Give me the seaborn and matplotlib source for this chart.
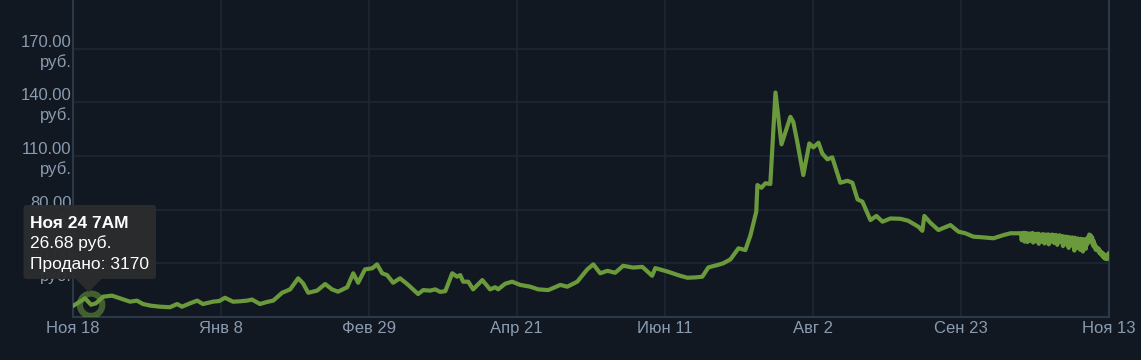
import numpy as np
import pandas as pd
import matplotlib
matplotlib.use("Agg")
import matplotlib.pyplot as plt
import seaborn as sns
from matplotlib.patches import FancyBboxPatch, Polygon

# ---------------- data ----------------
# days since 2023-11-18 (daily history) and median price, руб.
days_daily = [0, 2, 4.2, 6.3, 8, 10.5, 13.6, 16.4, 19.9, 22.3, 24.4, 27, 30.3, 33.8, 36.3, 38,
              40.8, 43.3, 45.3, 48.8, 51, 53, 55.8, 58, 60.7, 62.4, 65.2, 67.5, 69.8, 72.9,
              75.7, 78.5, 80.2, 82, 85.1, 87.9, 90.3, 92.4, 95.6, 97.7, 99.4, 101.8, 104.3,
              106, 107.8, 109.5, 111.6, 114, 116.5, 120.3, 122.1, 124.5, 126.3, 128, 129.8,
              132.2, 133.9, 135, 136, 137.8, 139.5, 142.7, 145.4, 147.2, 148.2, 150.7, 153.1,
              155.9, 159.4, 162.2, 165.7, 169.9, 172.3, 175.8, 179.3, 181.4, 183.8, 186.3,
              189, 191.8, 195.3, 198.5, 201.9, 203, 207.2, 211.7, 214.2, 217, 219.4, 221.5,
              224.6, 226.7, 229.2, 232, 234.4, 236.2, 238.2, 238.6, 240, 241.4, 243.1, 244.9,
              247, 250.1, 251.1, 252.5, 254.6, 256.7, 258.1, 259.9, 261.2, 263, 264.7, 267.5,
              270, 271.7, 273.5, 275.2, 278, 280.1, 282.2, 285, 288.5, 291.2, 294.7, 296.1,
              296.8, 298.9, 301.7, 305.9, 308.7, 311.1, 313.9, 317.4, 320.9, 324.4, 326.8, 330.3]
price_daily = [26.0, 28.0, 30.3, 26.68, 27.5, 31.2, 31.8, 30.3, 28.4, 29.0, 27.1, 26.2, 25.6, 25.3,
               27.1, 25.6, 27.5, 29.0, 27.1, 28.4, 28.8, 30.6, 28.4, 28.6, 29.0, 29.6, 27.1, 28.2,
               29.0, 33.4, 35.3, 41.5, 38.7, 33.4, 34.6, 38.3, 35.3, 34.0, 36.5, 44.3, 39.0, 46.5,
               47.1, 49.3, 44.3, 43.3, 39.0, 41.5, 38.3, 32.7, 34.9, 34.6, 35.3, 33.9, 34.3, 44.3,
               42.4, 43.3, 39.6, 39.6, 35.3, 40.5, 35.3, 36.5, 35.3, 38.5, 39.6, 37.8, 36.8, 35.3,
               34.9, 37.8, 36.8, 39.6, 46.5, 49.3, 44.3, 45.7, 44.6, 48.5, 47.5, 47.9, 42.9, 47.2,
               45.3, 42.9, 41.8, 42.0, 42.4, 47.6, 48.9, 49.9, 52.1, 58.3, 57.3, 65.7, 78.8, 93.7,
               92.2, 94.7, 94.3, 145.5, 116.5, 131.9, 129.1, 117.9, 99.3, 117.0, 114.8, 117.4,
               111.4, 108.1, 109.2, 95.0, 96.1, 95.0, 85.7, 84.4, 74.1, 76.4, 73.2, 75.0, 74.8,
               73.7, 70.4, 68.1, 76.4, 72.6, 68.5, 71.3, 67.6, 66.7, 64.8, 64.4, 63.9, 65.7,
               66.7, 66.7]
# last month: prices every ~6 hours
price_recent = [66.8, 62.8, 66.2, 64.0, 67.0, 62.0, 66.5, 63.5, 66.8, 61.8,
                66.0, 63.8, 66.6, 62.5, 66.2, 64.5, 66.9, 61.5, 66.0, 63.0,
                66.4, 62.2, 65.8, 64.2, 66.5, 60.8, 66.0, 63.2, 65.6, 62.0,
                66.2, 63.5, 65.9, 61.0, 66.0, 64.0, 65.5, 62.3, 66.1, 60.5,
                65.8, 63.0, 65.4, 62.0, 66.0, 63.6, 65.2, 61.2, 65.7, 62.8,
                65.5, 60.2, 65.0, 63.0, 65.6, 61.8, 65.2, 62.5, 64.8, 59.5,
                65.0, 62.0, 64.6, 60.5, 64.8, 62.8, 64.2, 58.5, 64.5, 61.5,
                64.0, 59.8, 64.4, 61.0, 63.8, 57.0, 64.2, 60.5, 63.5, 58.5,
                63.8, 60.2, 63.2, 57.5, 63.6, 59.0, 63.0, 56.5, 63.4, 60.0,
                62.8, 58.0, 63.5, 60.5, 64.5, 62.0, 66.0, 63.5, 65.5, 62.0,
                64.5, 60.0, 62.5, 59.0, 60.5, 57.5, 59.0, 57.8, 57.0, 58.2,
                55.8, 57.0, 55.0, 56.2, 54.2, 55.5, 53.2, 54.8, 52.5, 54.0,
                53.0, 52.2, 54.5, 55.5]
days_recent = list(np.linspace(330.5, 361, len(price_recent)))

x_tick_labels = ["Ноя 18", "Янв 8", "Фев 29", "Апр 21", "Июн 11", "Авг 2", "Сен 23", "Ноя 13"]
y_ticks = [20, 50, 80, 110, 140, 170]
y_tick_labels = ["", "50.00\nруб.", "80.00\nруб.", "110.00\nруб.", "140.00\nруб.", "170.00\nруб."]

hover_day, hover_price = 6.3, 26.68
tooltip_lines = ["Ноя 24 7AM", "26.68 руб.", "Продано: 3170"]

# ---------------- style ----------------
BG = "#111821"
GRID = "#1d2835"
SPINE = "#2a3848"
TXT = "#8a9bb0"
GREEN = "#6b9a3c"

sns.set_theme(style="dark")
plt.rcParams["font.family"] = ["Liberation Sans", "DejaVu Sans"]

df = pd.DataFrame({"day": days_daily + days_recent, "price": price_daily + price_recent})

fig = plt.figure(figsize=(11.41, 3.6), dpi=100, facecolor=BG)
ax = fig.add_axes([73 / 1141, 1 - 316.7 / 360, (1108.5 - 73) / 1141, 316.7 / 360])
ax.set_facecolor(BG)

sns.lineplot(data=df, x="day", y="price", ax=ax, color=GREEN, linewidth=3.0,
             estimator=None, sort=False, solid_capstyle="round", solid_joinstyle="round", zorder=3)

ax.scatter([hover_day], [hover_price], s=260, facecolors="none", edgecolors=GREEN,
           linewidths=4.5, alpha=0.55, zorder=4)

ax.set_xlim(0, 361)
ax.set_ylim(20, 197.3)
ax.set_xticks(np.linspace(0, 361, len(x_tick_labels)))
ax.set_xticklabels(x_tick_labels)
ax.set_yticks(y_ticks)
ax.set_yticklabels(y_tick_labels, linespacing=1.3)
ax.tick_params(axis="both", length=0, colors=TXT, labelsize=12)
ax.tick_params(axis="y", pad=1)
ax.tick_params(axis="x", pad=3)
ax.set_xlabel("")
ax.set_ylabel("")
ax.grid(True, color=GRID, linewidth=1.2)
for side in ["left", "bottom", "right"]:
    ax.spines[side].set_visible(True)
    ax.spines[side].set_color(SPINE)
    ax.spines[side].set_linewidth(1.5)
ax.spines["top"].set_visible(False)

# ---------------- tooltip ----------------
tr = fig.dpi_scale_trans
box = FancyBboxPatch((0.235, (360 - 279) / 100), 1.325, 0.74,
                     boxstyle="round,pad=0,rounding_size=0.03",
                     transform=tr, facecolor="#2b2c2e", edgecolor="none", alpha=0.97, zorder=10)
fig.patches.append(box)
arrow = Polygon([(0.755, (360 - 279) / 100), (1.015, (360 - 279) / 100), (0.885, (360 - 292) / 100)],
                closed=True, transform=tr, facecolor="#2b2c2e", edgecolor="none", alpha=0.97, zorder=10)
fig.patches.append(arrow)
baselines = [227.5, 248, 268.5]
for i, (line, yb) in enumerate(zip(tooltip_lines, baselines)):
    fig.text(0.30, (360 - yb) / 100, line, transform=tr, color="white", fontsize=12.5,
             fontweight="bold" if i == 0 else "normal", va="baseline", ha="left", zorder=11)

fig.savefig("out.png", dpi=100, facecolor=BG)
